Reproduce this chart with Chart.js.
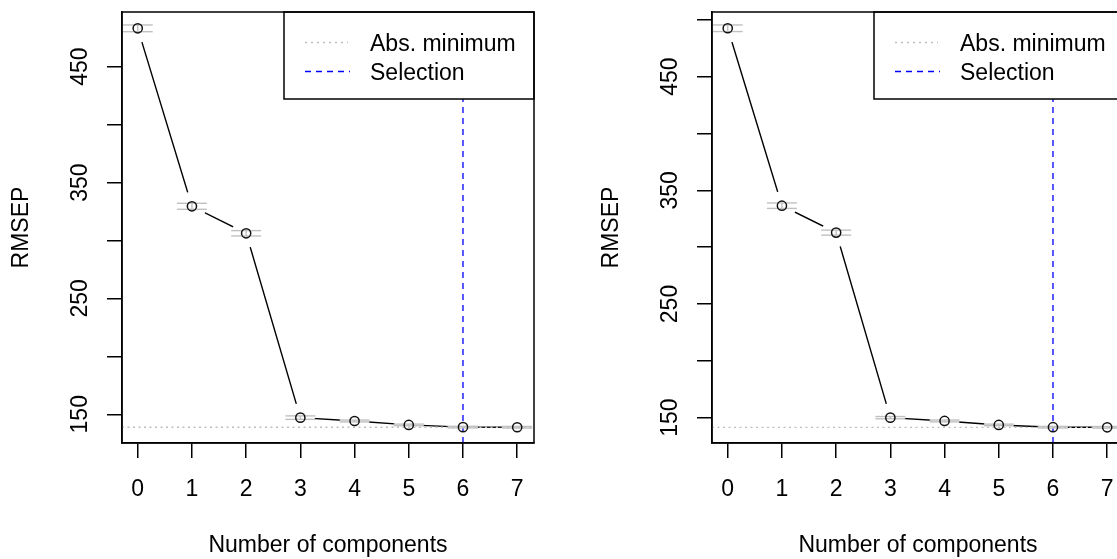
<!DOCTYPE html>
<html>
<head>
<meta charset="utf-8">
<script src="https://cdn.jsdelivr.net/npm/chart.js@4.4.1/dist/chart.umd.min.js"></script>
<style>
  html, body { margin: 0; padding: 0; background: #fff; overflow: hidden; }
  #wrap { display: flex; width: 1180px; height: 559px; }
  .panel { position: relative; width: 590px; height: 559px; flex: none; }
</style>
</head>
<body>
<div id="wrap">
  <div class="panel"><canvas id="left"></canvas></div>
  <div class="panel"><canvas id="right"></canvas></div>
</div>
<script>
// values
const components = [0, 1, 2, 3, 4, 5, 6, 7];
const rmsepLeft = [483.1, 329.5, 306.2, 147.1, 144.2, 140.8, 138.9, 138.8];
const seLeft = [2.9, 2.6, 2.3, 1.5, 0.8, 0.7, 0.7, 0.7];
const absMinLeft = 138.8;
const rmsepRight = [492.6, 336.5, 312.8, 150.0, 147.1, 143.6, 141.6, 141.5];
const seRight = [2.9, 2.4, 2.2, 1.0, 0.8, 0.7, 0.7, 0.7];
const absMinRight = 141.5;
const selection = 6;
const yTickLabels = [150, 250, 350, 450];
const legendLabels = ["Abs. minimum", "Selection"];

const FONT = "'Liberation Sans', Arial, sans-serif";
Chart.defaults.font.family = FONT;
Chart.defaults.color = "#000";

const frameAndLegend = {
  id: "frameAndLegend",
  afterDraw(chart) {
    const { ctx, chartArea: a } = chart;
    const w = 250, h = 87;
    const x0 = a.right - w, y0 = a.top;
    ctx.save();
    ctx.fillStyle = "#fff";
    ctx.fillRect(x0, y0, w, h);
    ctx.lineWidth = 1.5;
    ctx.strokeStyle = "#000";
    ctx.strokeRect(x0, y0, w, h);

    ctx.lineWidth = 1.3;
    ctx.strokeStyle = "#bebebe";
    ctx.setLineDash([2, 4]);
    ctx.beginPath();
    ctx.moveTo(x0 + 21, y0 + 30.5);
    ctx.lineTo(x0 + 64, y0 + 30.5);
    ctx.stroke();
    ctx.strokeStyle = "#0000ff";
    ctx.setLineDash([6, 5]);
    ctx.beginPath();
    ctx.moveTo(x0 + 21, y0 + 59.5);
    ctx.lineTo(x0 + 66, y0 + 59.5);
    ctx.stroke();
    ctx.setLineDash([]);

    ctx.fillStyle = "#000";
    ctx.font = "23px " + FONT;
    ctx.textBaseline = "middle";
    ctx.textAlign = "left";
    ctx.fillText(legendLabels[0], x0 + 86, y0 + 32.5);
    ctx.fillText(legendLabels[1], x0 + 86, y0 + 61.5);

    ctx.lineWidth = 1.5;
    ctx.strokeStyle = "#000";
    ctx.strokeRect(a.left, a.top, a.right - a.left, a.bottom - a.top);
    ctx.restore();
  },
};

function makePanel(id, values, se, absMin, yMin, yMax) {
  const xMin = -0.29, xMax = 7.31;
  const pts = values.map((v, i) => ({ x: components[i], y: v }));
  const upper = values.map((v, i) => ({ x: components[i], y: v + se[i] }));
  const lower = values.map((v, i) => ({ x: components[i], y: v - se[i] }));
  const barHalf = (c) => {
    const ys = c.chart.scales.y;
    if (!ys) return 0;
    return Math.abs(ys.getPixelForValue(values[0]) - ys.getPixelForValue(values[0] + se[c.dataIndex]));
  };

  return new Chart(document.getElementById(id), {
    type: "scatter",
    data: {
      datasets: [
        { data: pts, pointRadius: 4.6, pointBorderWidth: 1.5, pointBorderColor: "#111",
          pointBackgroundColor: "rgba(0,0,0,0)", order: 1 },
        { data: upper, pointStyle: "line", pointRadius: 15, pointBorderWidth: 1.4,
          pointBorderColor: "#c0c0c0", order: 2 },
        { data: lower, pointStyle: "line", pointRadius: 15, pointBorderWidth: 1.4,
          pointBorderColor: "#c0c0c0", order: 2 },
        { data: pts, pointStyle: "line", pointRotation: 90, pointRadius: barHalf, pointBorderWidth: 1.4,
          pointBorderColor: "#c0c0c0", order: 2 },
        { data: [{ x: selection, y: yMin }, { x: selection, y: yMax }], showLine: true,
          borderColor: "#0000ff", borderWidth: 1.3, borderDash: [6, 5], pointRadius: 0, order: 3 },
        { data: [{ x: xMin, y: absMin }, { x: xMax, y: absMin }], showLine: true,
          borderColor: "#bebebe", borderWidth: 1.3, borderDash: [2, 3.5], pointRadius: 0, order: 4 },
        { data: pts, pointRadius: 14.5, pointBorderWidth: 0, pointBackgroundColor: "#fff", order: 5 },
        { data: pts, showLine: true, borderColor: "#000", borderWidth: 1.4, pointRadius: 0, order: 6 },
      ],
    },
    options: {
      responsive: true,
      maintainAspectRatio: false,
      animation: false,
      events: [],
      layout: { autoPadding: false, padding: { top: 12, right: 56, left: 0, bottom: 0 } },
      plugins: { legend: { display: false }, tooltip: { enabled: false } },
      scales: {
        x: {
          type: "linear",
          min: xMin,
          max: xMax,
          afterFit(s) { s.height = 116; s.paddingLeft = 0; s.paddingRight = 0; },
          border: { display: true, color: "#000", width: 1.5 },
          grid: { drawOnChartArea: false, drawTicks: true, tickLength: 15, color: "#000", lineWidth: 1.5 },
          ticks: { stepSize: 1, includeBounds: false, autoSkip: false, padding: 18,
                   font: { size: 23 }, color: "#000", callback: (v) => String(v) },
          title: { display: true, text: "Number of components", font: { size: 23 },
                   color: "#000", padding: { top: 0, bottom: 0 } },
        },
        y: {
          min: yMin,
          max: yMax,
          afterFit(s) { s.width = 122; s.paddingTop = 0; s.paddingBottom = 0; },
          border: { display: true, color: "#000", width: 1.5 },
          grid: { drawOnChartArea: false, drawTicks: true, tickLength: 15, color: "#000", lineWidth: 1.5 },
          ticks: { stepSize: 50, includeBounds: false, autoSkip: false, padding: 7,
                   minRotation: 90, maxRotation: 90, crossAlign: "center",
                   font: { size: 23 }, color: "#000",
                   callback: (v) => (yTickLabels.includes(v) ? String(v) : "") },
          title: { display: true, text: "RMSEP", font: { size: 23 }, color: "#000",
                   padding: { top: 8, bottom: 0 } },
        },
      },
    },
    plugins: [frameAndLegend],
  });
}

makePanel("left", rmsepLeft, seLeft, absMinLeft, 125.2, 497.2);
makePanel("right", rmsepRight, seRight, absMinRight, 127.7, 506.9);
</script>
</body>
</html>
